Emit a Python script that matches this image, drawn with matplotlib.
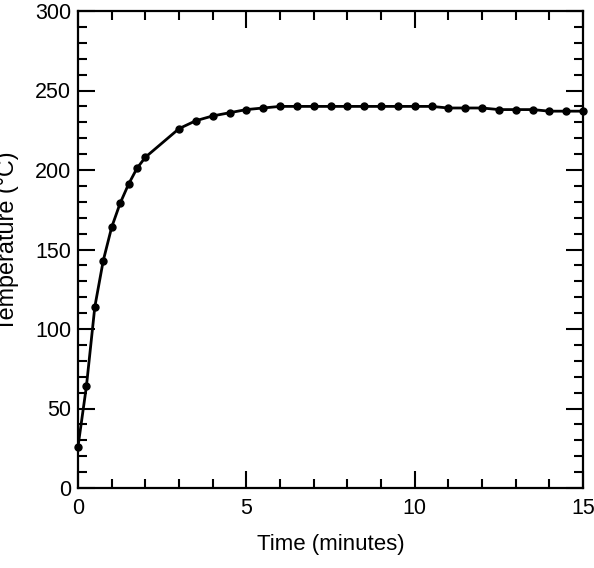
import matplotlib
matplotlib.use("Agg")
import matplotlib.pyplot as plt
from matplotlib.ticker import MultipleLocator

plt.rcParams["font.family"] = ["Liberation Sans", "DejaVu Sans"]

# time (minutes) and temperature (deg C)
time_min = [0, 0.25, 0.5, 0.75, 1.0, 1.25, 1.5, 1.75, 2.0,
            3.0, 3.5, 4.0, 4.5, 5.0, 5.5, 6.0, 6.5, 7.0, 7.5, 8.0,
            8.5, 9.0, 9.5, 10.0, 10.5, 11.0, 11.5, 12.0, 12.5, 13.0,
            13.5, 14.0, 14.5, 15.0]
temp_c = [26, 64, 114, 143, 164, 179, 191, 201, 208,
          226, 231, 234, 236, 238, 239, 240, 240, 240, 240, 240,
          240, 240, 240, 240, 240, 239, 239, 239, 238, 238,
          238, 237, 237, 237]

x_ticks = [0, 5, 10, 15]
y_ticks = [0, 50, 100, 150, 200, 250, 300]

fig = plt.figure(figsize=(5.94, 5.68), dpi=100)
ax = fig.add_axes([78/594, 1 - 488/568, 505/594, 477/568])

ax.plot(time_min, temp_c, color="black", lw=2.0,
        marker="o", markersize=5, clip_on=False, zorder=3)

ax.set_xlim(0, 15)
ax.set_ylim(0, 300)
ax.set_xticks(x_ticks)
ax.set_yticks(y_ticks)
ax.xaxis.set_minor_locator(MultipleLocator(1))
ax.yaxis.set_minor_locator(MultipleLocator(10))

ax.tick_params(which="both", direction="in", top=True, right=True,
               width=1.5, labelsize=15.5, pad=5)
ax.tick_params(axis="x", which="both", pad=7)
ax.tick_params(which="major", length=12.5)
ax.tick_params(which="minor", length=6.5)

for s in ax.spines.values():
    s.set_linewidth(1.6)

ax.set_xlabel("Time (minutes)", fontsize=16, labelpad=11)
# the label runs off the left edge, as in the original figure
ax.set_ylabel("Temperature (°C)", fontsize=16.8, labelpad=11.5, y=0.517)

fig.savefig("out.png", dpi=100)
